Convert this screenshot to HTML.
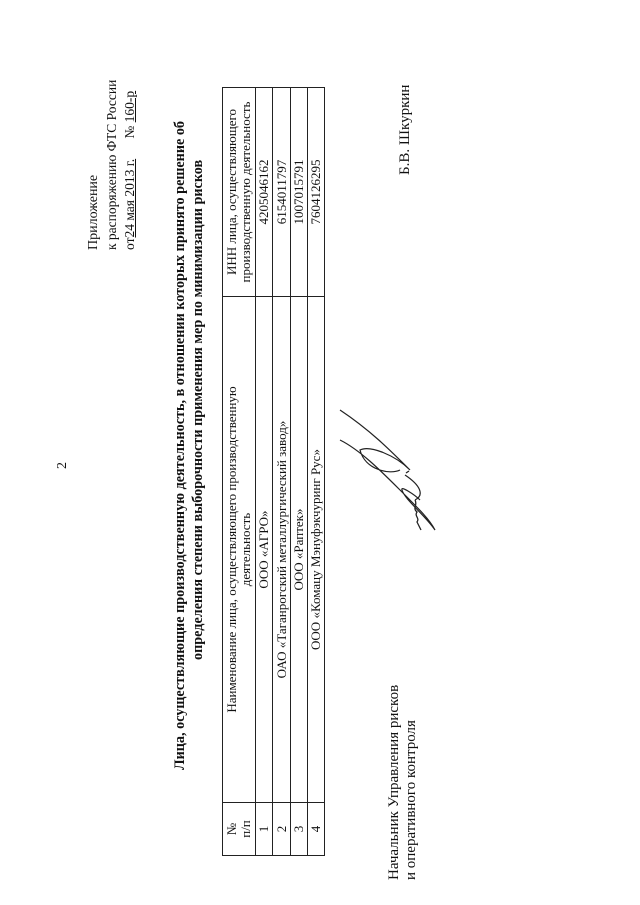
<!DOCTYPE html>
<html><head><meta charset="utf-8"><style>
html,body{margin:0;padding:0;background:#fff;width:640px;height:905px;overflow:hidden}
#p{position:absolute;left:0;top:905px;width:905px;height:640px;transform-origin:0 0;transform:rotate(-90deg);font-family:"Liberation Serif",serif;color:#111}
.t{position:absolute;white-space:nowrap;font-size:14px;line-height:16px}
table{position:absolute;left:49px;top:222px;border-collapse:collapse;font-size:13px;line-height:14px}
td{border:1px solid #222;padding:0;text-align:center;vertical-align:middle}
u{text-decoration:underline}
</style></head><body>
<div id="p">
<div class="t" style="left:436px;top:55px">2</div>
<div class="t" style="left:655px;top:86px">Приложение</div>
<div class="t" style="left:655px;top:104px;font-size:13.5px">к распоряжению ФТС России</div>
<div class="t" style="left:655px;top:122px;font-size:13.5px">от<u>24 мая 2013 г.</u>&nbsp;&nbsp;&nbsp;&nbsp;&nbsp;&nbsp;№ <u>160-р</u></div>
<div class="t" style="left:135px;top:172px;font-weight:bold;font-size:14.2px">Лица, осуществляющие производственную деятельность, в отношении которых принято решение об</div>
<div class="t" style="left:245px;top:190px;font-weight:bold;font-size:14.2px">определения степени выборочности применения мер по минимизации рисков</div>
<table>
<tr style="height:33px"><td style="width:52px">№<br>п/п</td><td style="width:505px">Наименование лица, осуществляющего производственную<br>деятельность</td><td style="width:208px">ИНН лица, осуществляющего<br>производственную деятельность</td></tr>
<tr style="height:17px"><td>1</td><td>ООО «АГРО»</td><td>4205046162</td></tr>
<tr style="height:18px"><td>2</td><td>ОАО «Таганрогский металлургический завод»</td><td>6154011797</td></tr>
<tr style="height:17px"><td>3</td><td>ООО «Раптек»</td><td>1007015791</td></tr>
<tr style="height:17px"><td>4</td><td>ООО «Комацу Мэнуфэкчуринг Рус»</td><td>7604126295</td></tr>
</table>
<div class="t" style="left:25px;top:386px;font-size:15px">Начальник Управления рисков</div>
<div class="t" style="left:25px;top:403px;font-size:15px">и оперативного контроля</div>
<div class="t" style="left:730px;top:397px;font-size:15px">Б.В. Шкуркин</div>
</div>
<svg style="position:absolute;left:0;top:0" width="640" height="905">
<path d="M340 410 C370 430 390 450 410 470 C395 455 370 445 360 450 C365 470 390 475 400 470 M340 440 C360 450 380 470 400 490 C420 510 430 520 435 530 C425 515 405 500 402 490 C400 485 415 495 420 500 M405 475 C420 485 425 495 415 500" fill="none" stroke="#222" stroke-width="1.2"/>
<path d="M406 473 l3 -2 M415 500 c3 5 -3 8 2 12 c-3 4 3 6 0 10 l4 8" fill="none" stroke="#222" stroke-width="1.3"/>
</svg>
</body></html>
